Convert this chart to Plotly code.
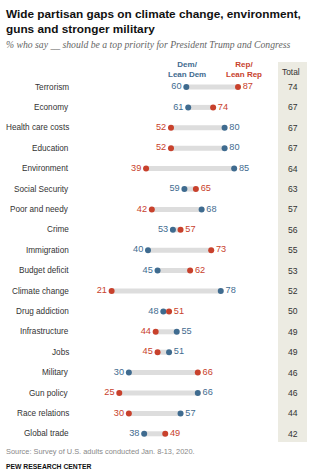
import plotly.graph_objects as go

categories = ["Terrorism", "Economy", "Health care costs", "Education", "Environment",
              "Social Security", "Poor and needy", "Crime", "Immigration", "Budget deficit",
              "Climate change", "Drug addiction", "Infrastructure", "Jobs", "Military",
              "Gun policy", "Race relations", "Global trade"]
dem = [60, 61, 80, 80, 85, 59, 68, 53, 40, 45, 78, 48, 55, 51, 30, 66, 57, 38]
rep = [87, 74, 52, 52, 39, 65, 42, 57, 73, 62, 21, 51, 44, 45, 66, 25, 30, 49]
total = [74, 67, 67, 67, 64, 63, 57, 56, 55, 53, 52, 50, 49, 49, 46, 46, 44, 42]

W, H = 332, 475
X0_PX, PX_PER = 71.4, 1.915
Y0_PX, ROW_PX = 87.0, 20.4
xr = [-X0_PX / PX_PER, (W - X0_PX) / PX_PER]
yr = [(H - Y0_PX) / ROW_PX, -Y0_PX / ROW_PX]

BLUE = "#3f6b8f"
RED = "#c8412c"
FONT = "Liberation Sans"
idx = list(range(len(categories)))

fig = go.Figure()

# connecting gray bars
sx, sy = [], []
for i in idx:
    sx += [dem[i], rep[i], None]
    sy += [i, i, None]
fig.add_trace(go.Scatter(x=sx, y=sy, mode="lines", line=dict(color="#dddddd", width=5),
                         hoverinfo="skip", showlegend=False))

dem_pos = ["middle left" if dem[i] < rep[i] else "middle right" for i in idx]
rep_pos = ["middle left" if rep[i] < dem[i] else "middle right" for i in idx]

fig.add_trace(go.Scatter(x=dem, y=idx, mode="markers+text", text=[str(v) for v in dem],
                         textposition=dem_pos, marker=dict(color=BLUE, size=6),
                         textfont=dict(color=BLUE, size=9.2, family=FONT), showlegend=False))
fig.add_trace(go.Scatter(x=rep, y=idx, mode="markers+text", text=[str(v) for v in rep],
                         textposition=rep_pos, marker=dict(color=RED, size=6),
                         textfont=dict(color=RED, size=9.2, family=FONT), showlegend=False))

# total column background
fig.add_shape(type="rect", xref="paper", yref="paper",
              x0=278 / W, x1=307 / W, y0=1 - 442 / H, y1=1 - 62 / H,
              fillcolor="#ecebe2", line=dict(width=0), layer="below")

TOT_X = (293 - X0_PX) / PX_PER
for i in idx:
    fig.add_annotation(x=-0.3, y=i, text=categories[i], showarrow=False, xanchor="right",
                       font=dict(size=8.2, color="#333333", family=FONT))
    fig.add_annotation(x=TOT_X, y=i, text=str(total[i]), showarrow=False, xanchor="center",
                       font=dict(size=8.6, color="#333333", family=FONT))

def px_ann(x, y, text, size, color, xanchor="left", family=FONT, **kw):
    fig.add_annotation(xref="paper", yref="paper", x=x / W, y=1 - y / H, text=text,
                       showarrow=False, xanchor=xanchor, yanchor="middle",
                       font=dict(size=size, color=color, family=family), **kw)

px_ann(4, 22, "<b>Wide partisan gaps on climate change, environment,<br>guns and stronger military</b>",
       11.8, "#111111", align="left")
px_ann(4, 45, "<i>% who say __ should be a top priority for President Trump and Congress</i>",
       9.7, "#666666", family="Liberation Serif")
px_ann(187, 69, "<b>Dem/<br>Lean Dem</b>", 8, BLUE, xanchor="center")
px_ann(244, 69, "<b>Rep/<br>Lean Rep</b>", 8, RED, xanchor="center")
px_ann(291, 72, "Total", 8.4, "#333333", xanchor="center")
px_ann(4, 451, "Source: Survey of U.S. adults conducted Jan. 8-13, 2020.", 7.4, "#888888")
px_ann(4, 466, "<b>PEW RESEARCH CENTER</b>", 6.8, "#111111")

fig.update_layout(width=W, height=H, margin=dict(l=0, r=0, t=0, b=0),
                  plot_bgcolor="white", paper_bgcolor="white",
                  xaxis=dict(range=xr, visible=False, fixedrange=True),
                  yaxis=dict(range=yr, visible=False, fixedrange=True))
fig.write_html("out.html")
